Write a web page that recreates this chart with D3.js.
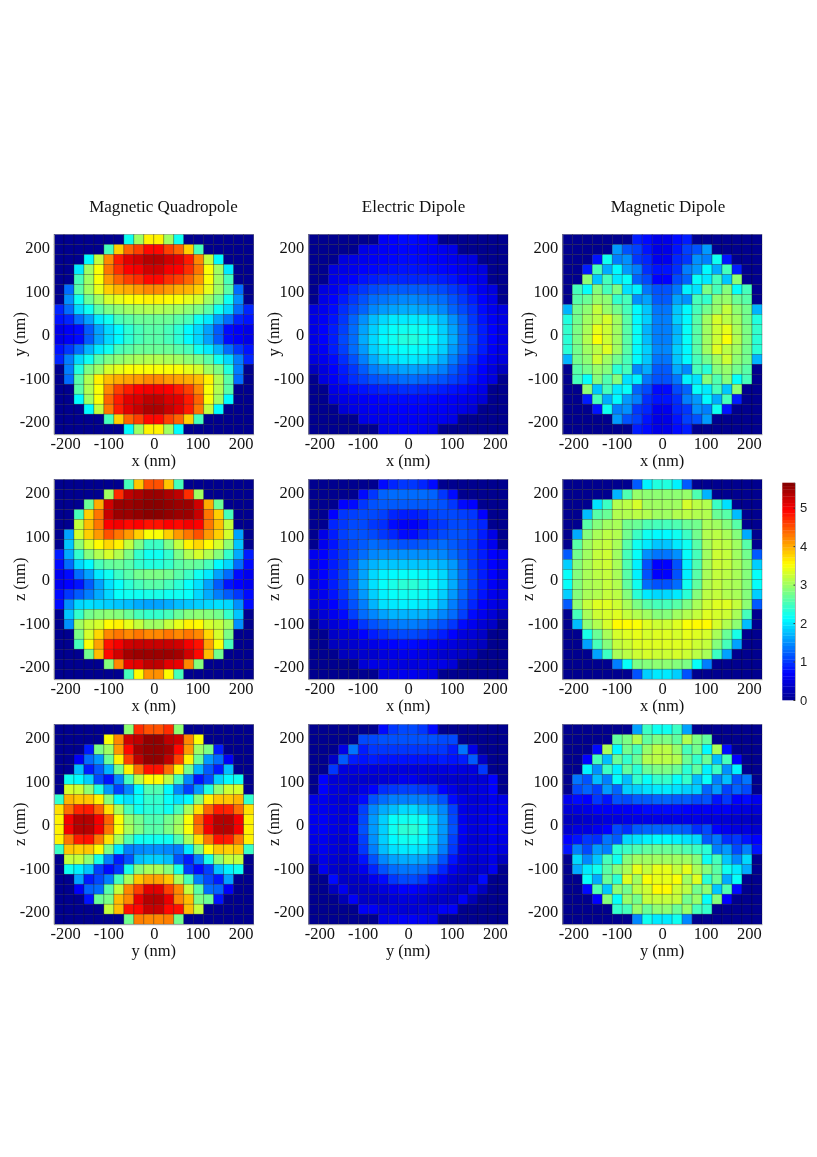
<!DOCTYPE html>
<html>
<head>
<meta charset="utf-8">
<script src="https://cdn.jsdelivr.net/npm/d3@7/dist/d3.min.js"></script>
<style>
html,body{margin:0;padding:0;background:#fff;}
svg{display:block;filter:blur(0.5px);}
</style>
</head>
<body>
<svg id="chart" width="817" height="1157"></svg>
<script>
// Each row holds the visible cells from the left edge of the disc to the centre line;
// the reference is mirror-symmetric left/right.
const mqXY = [
[2.2,3.0,3.6],
[2.5,3.8,4.4,4.6,4.9],
[2.1,3.2,4.2,4.8,5.1,5.2,5.35],
[2.0,3.0,3.5,4.3,4.7,4.95,5.0,5.2],
[2.5,3.0,3.5,4.1,4.4,4.6,4.7,4.9],
[1.3,2.6,3.0,3.4,3.8,3.95,4.0,4.1,4.2],
[1.5,2.2,2.7,3.0,3.3,3.4,3.5,3.55,3.6],
[0.9,1.3,1.9,2.2,2.6,2.8,2.9,3.0,3.05,3.1],
[0.8,0.9,1.3,1.6,2.0,2.2,2.5,2.6,2.7,2.7],
[0.55,0.65,0.75,1.2,1.6,1.9,2.1,2.35,2.5,2.6],
[0.55,0.65,0.75,1.2,1.6,1.9,2.1,2.35,2.5,2.6],
[0.8,1.0,1.3,1.7,2.0,2.2,2.5,2.6,2.7,2.7],
[0.9,1.4,1.9,2.2,2.6,2.8,2.9,3.0,3.05,3.1],
[1.4,2.3,2.8,3.0,3.3,3.4,3.5,3.5,3.5],
[1.3,2.6,3.1,3.6,3.9,4.0,4.05,4.1,4.2],
[2.6,3.1,3.5,4.2,4.6,4.8,4.95,5.0],
[2.1,3.0,3.5,4.4,4.8,5.1,5.15,5.3],
[2.1,3.2,4.3,4.8,5.1,5.25,5.4],
[2.5,3.8,4.4,4.6,4.9],
[2.1,3.0,3.6]
];
const edXY = [
[0.65,0.7,0.75],
[0.55,0.6,0.65,0.7,0.72],
[0.5,0.55,0.6,0.65,0.7,0.72,0.75],
[0.5,0.55,0.6,0.7,0.72,0.75,0.78,0.8],
[0.55,0.65,0.7,0.8,0.85,0.9,0.9,0.9],
[0.5,0.6,0.75,0.9,1.0,1.1,1.15,1.2,1.2],
[0.55,0.7,0.85,1.0,1.15,1.3,1.35,1.4,1.45],
[0.5,0.6,0.75,0.95,1.1,1.25,1.45,1.55,1.6,1.65],
[0.55,0.65,0.8,1.0,1.25,1.5,1.75,1.9,2.0,2.0],
[0.55,0.7,0.85,1.05,1.3,1.6,1.85,2.05,2.15,2.2],
[0.55,0.7,0.85,1.1,1.3,1.65,1.9,2.1,2.2,2.3],
[0.55,0.65,0.85,1.05,1.3,1.55,1.85,2.0,2.1,2.15],
[0.5,0.6,0.75,0.95,1.15,1.4,1.65,1.85,1.95,2.0],
[0.3,0.5,0.7,0.85,1.0,1.2,1.4,1.5,1.55,1.6],
[0.5,0.65,0.8,0.95,1.05,1.15,1.2,1.25,1.3],
[0.55,0.65,0.75,0.8,0.85,0.9,0.9,0.95],
[0.45,0.55,0.6,0.65,0.7,0.72,0.75,0.75],
[0.45,0.55,0.6,0.65,0.65,0.7,0.7],
[0.55,0.6,0.6,0.65,0.65],
[0.55,0.6,0.65]
];
const mdXY = [
[0.85,0.75,0.55],
[1.55,1.15,1.05,0.8,0.55],
[0.8,2.2,1.4,1.5,1.0,0.9,0.6],
[0.85,2.5,1.65,2.1,1.55,1.4,0.95,0.8],
[2.9,1.8,2.5,2.0,2.15,1.25,1.1,0.7],
[2.5,2.15,2.85,2.5,2.8,1.95,2.05,1.35,1.15],
[2.6,2.7,2.95,2.9,2.4,2.5,1.5,1.6,1.2],
[1.7,2.75,2.9,3.2,2.95,2.75,2.5,2.1,1.8,1.35],
[2.3,2.75,3.0,3.15,3.3,3.0,2.6,2.1,1.85,1.4],
[2.4,2.8,3.05,3.4,3.25,3.0,2.6,2.15,1.7,1.4],
[2.35,2.8,3.1,3.5,3.25,3.0,2.6,2.15,1.75,1.4],
[2.35,2.75,3.0,3.15,3.35,3.0,2.6,2.1,1.85,1.45],
[1.7,2.75,2.9,3.25,3.0,2.75,2.5,2.1,1.8,1.35],
[2.6,2.75,2.95,2.85,2.35,2.5,1.45,1.65,1.2],
[2.5,2.15,2.85,2.55,2.85,1.95,2.05,1.35,1.15],
[2.9,1.8,2.5,2.0,2.15,1.25,1.1,0.75],
[0.85,2.5,1.65,2.1,1.55,1.4,0.95,0.8],
[0.8,2.2,1.4,1.5,1.0,0.9,0.6],
[1.55,1.15,1.05,0.8,0.55],
[0.85,0.75,0.55]
];
const mqXZ = [
[2.5,3.85,4.5],
[3.0,4.7,5.3,5.4,5.5],
[2.7,4.0,5.2,5.5,5.5,5.55,5.6],
[2.5,3.8,4.3,5.25,5.5,5.5,5.55,5.6],
[3.2,3.9,4.3,4.95,5.0,4.9,4.95,4.85],
[1.6,3.3,3.8,4.1,4.5,4.3,4.1,3.8,3.5],
[1.8,2.9,3.3,3.55,3.75,3.6,3.2,2.8,2.45],
[0.85,1.65,2.4,2.85,3.1,3.3,3.1,2.8,2.4,2.2],
[0.75,1.3,1.9,2.1,2.5,2.65,2.7,2.6,2.4,2.3],
[0.6,0.75,1.3,1.6,2.0,2.2,2.45,2.6,2.75,2.8],
[0.6,0.7,0.8,1.2,1.6,1.95,2.15,2.35,2.5,2.6],
[0.75,1.0,1.2,1.4,1.65,1.9,2.15,2.2,2.2,2.25],
[0.75,1.5,1.9,1.95,1.9,1.85,1.8,1.75,1.65,1.6],
[1.8,2.4,2.75,2.85,2.9,2.85,2.7,2.5,2.4],
[1.5,3.0,3.2,3.3,3.55,3.6,3.4,3.2,3.0],
[2.8,3.3,3.75,4.2,4.3,4.2,4.3,4.2],
[2.5,3.5,4.05,4.85,5.0,5.2,5.25,5.25],
[2.75,3.9,4.9,5.2,5.45,5.5,5.5],
[2.85,4.2,5.05,5.1,5.3],
[2.5,3.55,4.15]
];
const edXZ = [
[0.75,0.9,1.0],
[0.75,1.0,1.25,1.3,1.3],
[0.7,0.75,1.0,1.15,1.2,1.2,1.2],
[0.7,1.0,1.05,1.1,1.1,1.05,0.9,0.85],
[0.9,1.0,1.1,1.1,1.0,0.95,0.75,0.65],
[0.55,0.85,1.05,1.15,1.15,1.1,1.0,0.9,0.75],
[0.6,0.8,1.0,1.1,1.2,1.3,1.25,1.2,1.15],
[0.6,0.7,0.85,1.0,1.15,1.3,1.45,1.5,1.5,1.5],
[0.55,0.7,0.85,1.0,1.25,1.55,1.7,1.8,1.8,1.8],
[0.5,0.7,0.85,1.05,1.3,1.6,1.9,2.05,2.1,2.15],
[0.5,0.65,0.85,1.05,1.3,1.65,1.95,2.15,2.25,2.35],
[0.5,0.6,0.8,1.0,1.25,1.55,1.85,2.05,2.15,2.2],
[0.45,0.55,0.7,0.9,1.15,1.4,1.7,1.95,2.0,2.05],
[0.25,0.45,0.6,0.75,1.05,1.3,1.45,1.6,1.7,1.7],
[0.35,0.45,0.6,0.75,1.0,1.15,1.25,1.35,1.4],
[0.35,0.45,0.5,0.7,0.85,0.95,1.05,1.1],
[0.3,0.35,0.4,0.5,0.55,0.65,0.7,0.75],
[0.3,0.35,0.4,0.4,0.5,0.55,0.6],
[0.45,0.55,0.55,0.55,0.5],
[0.5,0.55,0.6]
];
const mdXZ = [
[1.2,2.05,2.3],
[1.7,2.55,2.95,2.9,2.9],
[1.95,2.45,3.1,3.15,3.3,3.0,3.0],
[1.75,2.6,2.7,3.1,3.1,3.15,3.1,3.0],
[2.6,2.85,3.0,3.05,2.75,2.7,2.55,2.5],
[1.65,2.85,3.05,3.15,3.1,2.75,2.45,2.2,2.1],
[2.6,3.0,3.15,3.2,3.05,2.6,2.2,2.0,1.8],
[1.2,2.75,3.0,3.2,3.25,3.0,2.5,2.15,1.5,1.35],
[1.85,2.85,3.05,3.2,3.25,3.05,2.55,2.05,1.15,0.7],
[2.15,2.85,3.05,3.15,3.2,3.05,2.6,2.05,1.15,0.7],
[2.15,2.85,3.05,3.1,3.2,3.1,2.65,2.2,1.3,1.15],
[1.85,2.85,3.05,3.1,3.2,3.15,2.85,2.35,2.0,1.9],
[1.2,2.9,3.2,3.35,3.35,3.25,3.05,2.8,2.6,2.5],
[2.5,3.05,3.25,3.3,3.35,3.2,3.1,3.0,2.85],
[1.75,2.9,3.1,3.3,3.55,3.55,3.5,3.35,3.25],
[2.25,2.7,3.05,3.3,3.35,3.4,3.3,3.35],
[1.6,2.5,2.85,3.2,3.25,3.35,3.35,3.35],
[1.6,2.45,3.05,3.15,3.25,3.3,3.25],
[1.4,2.15,2.8,2.85,2.9],
[1.15,1.85,2.0]
];
const mqYZ = [
[2.9,4.7,4.5],
[3.5,4.2,5.2,5.3,5.55],
[0.85,2.8,3.0,4.1,4.9,5.45,5.55],
[0.65,1.3,1.55,2.7,3.6,4.6,5.3,5.55],
[1.75,0.85,1.2,1.7,2.75,3.6,4.35,4.85],
[2.2,2.1,1.85,1.1,0.8,1.45,2.5,3.15,3.55],
[3.3,3.25,2.9,2.3,1.55,1.05,1.45,2.1,2.55],
[2.4,3.95,3.85,3.85,3.6,2.85,2.1,1.95,2.15,2.4],
[3.7,4.35,4.75,4.8,4.4,3.7,3.05,2.5,2.2,2.35],
[3.6,5.0,5.35,5.35,5.0,4.4,3.5,2.95,2.75,2.55],
[3.6,5.0,5.35,5.35,5.0,4.3,3.5,3.05,2.8,2.6],
[3.6,4.3,4.8,4.85,4.3,3.7,3.05,2.55,2.2,2.2],
[2.45,3.85,3.8,3.85,3.55,2.8,2.0,1.4,1.45,1.5],
[3.2,3.2,2.9,2.25,1.4,0.85,1.15,1.75,1.85],
[2.2,2.05,1.8,1.05,0.75,1.0,2.25,2.85,3.05],
[1.6,0.85,1.1,1.4,2.5,3.05,3.85,4.05],
[0.65,1.25,1.3,2.6,3.2,4.2,4.6,5.1],
[0.8,2.7,2.8,3.9,4.2,5.05,5.35],
[3.2,3.9,4.85,4.9,5.25],
[2.75,4.25,4.2]
];
const edYZ = [
[0.75,1.0,1.1],
[1.1,1.1,1.15,1.15,1.15],
[0.55,1.35,0.85,1.0,1.0,1.0,1.0],
[0.35,1.2,0.85,0.8,0.85,0.8,0.8,0.8],
[1.0,0.5,0.5,0.55,0.5,0.5,0.5,0.5],
[0.7,0.45,0.45,0.4,0.4,0.4,0.45,0.5,0.6],
[0.7,0.5,0.5,0.4,0.55,0.7,0.95,1.0,1.05],
[0.55,0.6,0.5,0.45,0.55,0.75,1.15,1.3,1.4,1.4],
[0.6,0.6,0.55,0.5,0.55,1.05,1.45,1.65,1.75,1.9],
[0.6,0.65,0.55,0.5,0.6,1.1,1.55,1.85,2.15,2.2],
[0.6,0.65,0.55,0.5,0.65,1.15,1.55,1.85,2.2,2.35],
[0.55,0.6,0.5,0.45,0.6,1.05,1.5,1.85,2.1,2.2],
[0.5,0.6,0.5,0.45,0.55,1.0,1.4,1.75,1.95,2.0],
[0.3,0.55,0.45,0.4,0.5,0.8,1.15,1.45,1.6,1.65],
[0.6,0.4,0.35,0.45,0.6,0.9,1.15,1.3,1.35],
[0.75,0.35,0.35,0.4,0.6,0.75,1.0,1.1],
[0.3,0.6,0.3,0.35,0.4,0.5,0.6,0.7],
[0.25,0.65,0.35,0.35,0.35,0.45,0.5],
[0.65,0.65,0.5,0.5,0.45],
[0.55,0.6,0.65]
];
const mdYZ = [
[1.6,2.45,2.2],
[2.65,2.8,3.1,2.65,2.8],
[0.75,3.05,2.1,2.75,2.5,2.95,3.15],
[0.7,2.5,1.75,2.7,2.4,2.7,3.1,3.15],
[2.05,1.5,2.45,2.05,2.65,2.35,2.7,2.8],
[1.35,1.15,1.75,1.4,2.15,1.75,2.4,2.15,2.4],
[1.1,1.25,1.05,1.55,1.25,1.85,1.85,1.95,2.0],
[0.6,0.75,0.7,1.0,0.8,1.15,1.1,1.2,1.2,1.25],
[0.45,0.5,0.55,0.65,0.65,0.65,0.65,0.7,0.75,0.75],
[0.3,0.35,0.4,0.45,0.5,0.5,0.55,0.55,0.55,0.55],
[0.4,0.5,0.5,0.6,0.7,1.1,0.95,1.2,1.25,1.25],
[0.7,0.8,1.0,0.95,1.35,1.2,1.9,1.95,2.05,2.1],
[0.8,1.4,1.1,1.55,1.4,2.35,2.45,2.55,2.65,2.7],
[1.9,1.45,1.8,2.5,2.2,2.85,3.0,3.0,3.0],
[1.65,2.0,2.2,2.6,2.85,3.05,3.4,3.2,3.4],
[2.15,1.65,2.7,2.35,3.35,3.0,3.5,3.4],
[0.75,2.55,1.8,2.9,2.75,3.15,3.25,3.55],
[0.7,2.85,2.15,2.95,2.75,3.2,3.2],
[2.4,2.5,2.95,2.7,2.9],
[1.45,2.2,2.0]
];

const columnTitles = ["Magnetic Quadropole","Electric Dipole","Magnetic Dipole"];
const axisTicks = [-200,-100,0,100,200];
const barTicks = [0,1,2,3,4,5];
const jetStops = [0,0.7,1.41,2.12,2.83,3.53,4.24,4.94,5.65];
const jetColors = ["#00008f","#0000ff","#0080ff","#00ffff","#80ff80","#ffff00","#ff8000","#ff0000","#800000"];
const panelLayout = [
  {data:mqXY,h:"x",v:"y",c:0,r:0},{data:edXY,h:"x",v:"y",c:1,r:0},{data:mdXY,h:"x",v:"y",c:2,r:0},
  {data:mqXZ,h:"x",v:"z",c:0,r:1},{data:edXZ,h:"x",v:"z",c:1,r:1},{data:mdXZ,h:"x",v:"z",c:2,r:1},
  {data:mqYZ,h:"y",v:"z",c:0,r:2},{data:edYZ,h:"y",v:"z",c:1,r:2},{data:mdYZ,h:"y",v:"z",c:2,r:2}
];
const colX = [54,308.3,562.3], rowY = [234.5,479.5,724.5];
const titleX = [163.5,413.5,668];
const panelSize = 199.7, halfRange = 230, gridN = 20;

const svg = d3.select("#chart");
const serif = "'Liberation Serif','Times New Roman',serif";
const jet = d3.scaleLinear().domain(jetStops).range(jetColors).clamp(true);

// Pad each half row to 10 cells and mirror it to the full 20 cell row.
function fullRow(half){
  const left = d3.range(10-half.length).map(()=>0).concat(half);
  return left.concat(left.slice().reverse());
}

columnTitles.forEach((t,i)=>{
  svg.append("text").attr("x",titleX[i]).attr("y",212)
    .attr("text-anchor","middle").attr("font-family",serif).attr("font-size",17).attr("fill","#111").text(t);
});

panelLayout.forEach(p=>{
  const g = svg.append("g").attr("transform",`translate(${colX[p.c]},${rowY[p.r]})`);
  const cellBand = d3.scaleBand().domain(d3.range(gridN)).range([0,panelSize]);
  const xS = d3.scaleLinear().domain([-halfRange,halfRange]).range([0,panelSize]);
  const yS = d3.scaleLinear().domain([-halfRange,halfRange]).range([panelSize,0]);
  const cells = p.data.flatMap((row,ri)=>fullRow(row).map((v,ci)=>({ri,ci,v})));
  g.selectAll("rect.cell").data(cells).join("rect").attr("class","cell")
    .attr("x",d=>cellBand(d.ci)).attr("y",d=>cellBand(d.ri))
    .attr("width",cellBand.bandwidth()).attr("height",cellBand.bandwidth())
    .attr("fill",d=>jet(d.v))
    .attr("stroke","#000").attr("stroke-opacity",0.42).attr("stroke-width",0.6);
  const ax = g.append("g").attr("transform",`translate(0,${panelSize})`)
    .call(d3.axisBottom(xS).tickValues(axisTicks).tickSize(0).tickPadding(3.5).tickFormat(String));
  const ay = g.append("g").call(d3.axisLeft(yS).tickValues(axisTicks).tickSize(0).tickPadding(4).tickFormat(String));
  [ax,ay].forEach(a=>{
    a.selectAll("text").attr("font-family",serif).attr("font-size",16.5).attr("fill","#111");
    a.select(".domain").attr("stroke","#999").attr("stroke-width",0.8);
  });
  ax.selectAll(".tick text").attr("dx",d=>d<0?-2:0);
  g.append("text").attr("x",panelSize/2).attr("y",panelSize+32).attr("text-anchor","middle")
    .attr("font-family",serif).attr("font-size",16.5).attr("fill","#111").text(`${p.h} (nm)`);
  g.append("text").attr("transform",`translate(-29,${panelSize/2}) rotate(-90)`).attr("text-anchor","middle")
    .attr("font-family",serif).attr("font-size",16.5).attr("fill","#111").text(`${p.v} (nm)`);
});

// Colour bar
const barX = 782.3, barW = 12.7, barTop = 482.7, barBottom = 700;
const barScale = d3.scaleLinear().domain([0,5.65]).range([barBottom,barTop]);
const barEdges = d3.range(65).map(i=>i/64*5.65);
const bar = svg.append("g");
bar.selectAll("rect").data(barEdges.slice(0,-1)).join("rect")
  .attr("x",barX).attr("width",barW)
  .attr("y",(d,i)=>barScale(barEdges[i+1]))
  .attr("height",(d,i)=>barScale(barEdges[i])-barScale(barEdges[i+1])+0.3)
  .attr("fill",(d,i)=>jet((barEdges[i]+barEdges[i+1])/2));
const barAxis = svg.append("g").attr("transform",`translate(${barX+barW},0)`)
  .call(d3.axisRight(barScale).tickValues(barTicks).tickSize(-1.5).tickPadding(5).tickFormat(String));
barAxis.selectAll("text").attr("font-family","'Liberation Sans',Arial,sans-serif").attr("font-size",13).attr("fill","#222");
barAxis.select(".domain").attr("stroke","#666").attr("stroke-width",0.5);
barAxis.selectAll(".tick line").attr("stroke","#333");
</script>
</body>
</html>
